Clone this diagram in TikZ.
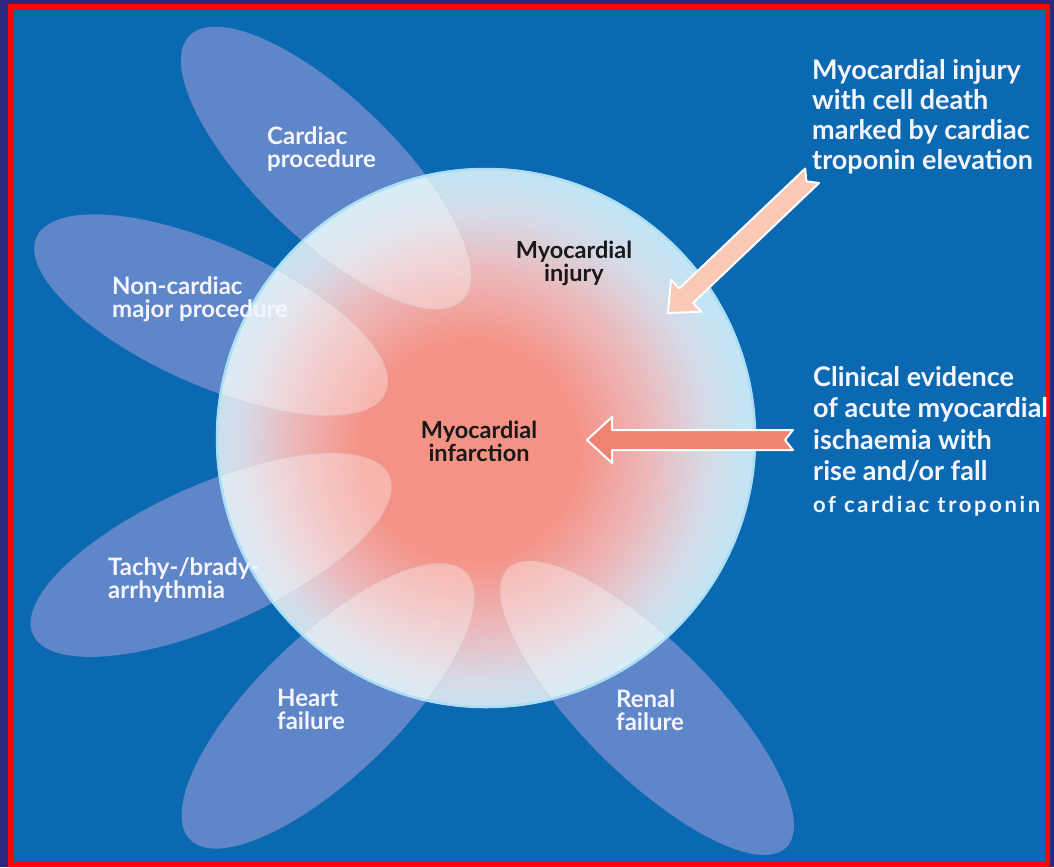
\documentclass[tikz,border=0pt]{standalone}
\usepackage{fontspec}
\setsansfont{Lato}
\usetikzlibrary{calc}

\definecolor{frameInd}{RGB}{44,40,126}
\definecolor{frameRed}{RGB}{250,4,12}
\definecolor{bgBlue}{RGB}{11,105,178}
\definecolor{petalBlue}{RGB}{94,134,200}
\definecolor{miSalmon}{RGB}{245,146,134}
\definecolor{miPink}{RGB}{236,184,186}
\definecolor{miMid}{RGB}{214,218,230}
\definecolor{miEdge}{RGB}{196,228,243}
\definecolor{miRim}{RGB}{170,222,246}
\definecolor{arrowSalmon}{RGB}{240,130,114}
\definecolor{arrowPeach}{RGB}{249,201,182}

\pgfdeclareradialshading{mishade}{\pgfpoint{-2bp}{-1.5bp}}{%
  color(0bp)=(miSalmon); color(10bp)=(miSalmon); color(16.5bp)=(miPink);
  color(21.5bp)=(miMid); color(25bp)=(miEdge); color(50bp)=(miEdge)}

\begin{document}
\begin{tikzpicture}[x=1pt, y=-1pt,
  petal/.style={fill=petalBlue},
  petalhi/.style={fill=white, fill opacity=0.33, draw=white!55!gray, draw opacity=0.3, line width=1pt},
  bigarrow/.style={draw=white, line width=2pt, line join=round},
  petallabel/.style={text=white!96!blue, font=\sffamily\bfseries\fontsize{24}{23}\selectfont, align=left, anchor=north west, inner sep=0pt},
  corelabel/.style={text=black!90, font=\sffamily\bfseries\fontsize{23.5}{23}\selectfont, align=center, anchor=north, inner sep=0pt},
  sidetext/.style={text=white!96!blue, font=\sffamily\bfseries\fontsize{27}{30}\selectfont, align=left, anchor=north west, inner sep=0pt}]

% Frame and background
\useasboundingbox (0,0) rectangle (1054,867);
\fill[frameInd] (0,0) rectangle (1054,867);
\fill[frameRed] (8,4) rectangle (1050,867);
\fill[bgBlue] (14,10) rectangle (1045,862);

% Petals (causes of injury)
\fill[petal, shift={(326,168)}, rotate=136] (0,0) ellipse [x radius=190pt, y radius=70pt];
\fill[petal, shift={(211,315)}, rotate=156] (0,0) ellipse [x radius=191pt, y radius=70pt];
\fill[petal, shift={(211,555)}, rotate=204] (0,0) ellipse [x radius=195pt, y radius=70pt];
\fill[petal, shift={(328,706)}, rotate=224] (0,0) ellipse [x radius=192pt, y radius=70pt];
\fill[petal, shift={(647,708)}, rotate=-45] (0,0) ellipse [x radius=197pt, y radius=66pt];

% Myocardial injury disc
\coordinate (miCenter) at (486,438);
\shade[shading=mishade] (miCenter) circle [radius=270pt];

% Petal parts inside the disc
\begin{scope}
  \clip (miCenter) circle [radius=270pt];
  \draw[petalhi, shift={(326,168)}, rotate=136] (0,0) ellipse [x radius=190pt, y radius=70pt];
  \draw[petalhi, shift={(211,315)}, rotate=156] (0,0) ellipse [x radius=191pt, y radius=70pt];
  \draw[petalhi, shift={(211,555)}, rotate=204] (0,0) ellipse [x radius=195pt, y radius=70pt];
  \draw[petalhi, shift={(328,706)}, rotate=224] (0,0) ellipse [x radius=192pt, y radius=70pt];
  \draw[petalhi, shift={(647,708)}, rotate=-45] (0,0) ellipse [x radius=197pt, y radius=66pt];
\end{scope}
\draw[miRim, line width=2.5pt] (miCenter) circle [radius=269pt];

% Arrow to myocardial injury
\coordinate (injTip) at (668,313);
\draw[bigarrow, fill=arrowPeach, shift={(injTip)}, rotate=43.6]
  (0,0) -- (25,-22) -- (25,-10) -- (199,-10) -- (191,0) -- (199,10) -- (25,10) -- (25,22) -- cycle;

% Arrow to myocardial infarction
\coordinate (ischTip) at (587,440);
\draw[bigarrow, fill=arrowSalmon, shift={(ischTip)}]
  (0,0) -- (25,-23) -- (25,-10) -- (206,-10) -- (198,0) -- (206,10) -- (25,10) -- (25,23) -- cycle;

% Labels on the petals
\node[petallabel] (cardLbl) at (267,126) {Cardiac\\procedure};
\node[petallabel] (noncardLbl) at (112,276) {Non-cardiac\\major procedure};
\node[petallabel] (arrhLbl) at (108,557) {Tachy-/brady-\\arrhythmia};
\node[petallabel] (hfLbl) at (277,689) {Heart\\failure};
\node[petallabel] (renalLbl) at (616,689) {Renal\\failure};

% Labels in the disc
\node[corelabel] (injuryLbl) at (574,241) {Myocardial\\injury};
\node[corelabel] (infarctLbl) at (479,421) {Myocardial\\infarction};

% Definitions on the right
\node[sidetext] (injText) at (812,59) {Myocardial injury\\with cell death\\marked by cardiac\\troponin elevation};
\node[sidetext, font=\sffamily\bfseries\fontsize{27}{31.5}\selectfont] (ischText) at (813,366) {Clinical evidence\\of acute myocardial\\ischaemia with\\rise and/or fall\\{\fontsize{22}{31.5}\selectfont\addfontfeature{LetterSpace=12}of cardiac troponin}};

\end{tikzpicture}
\end{document}
